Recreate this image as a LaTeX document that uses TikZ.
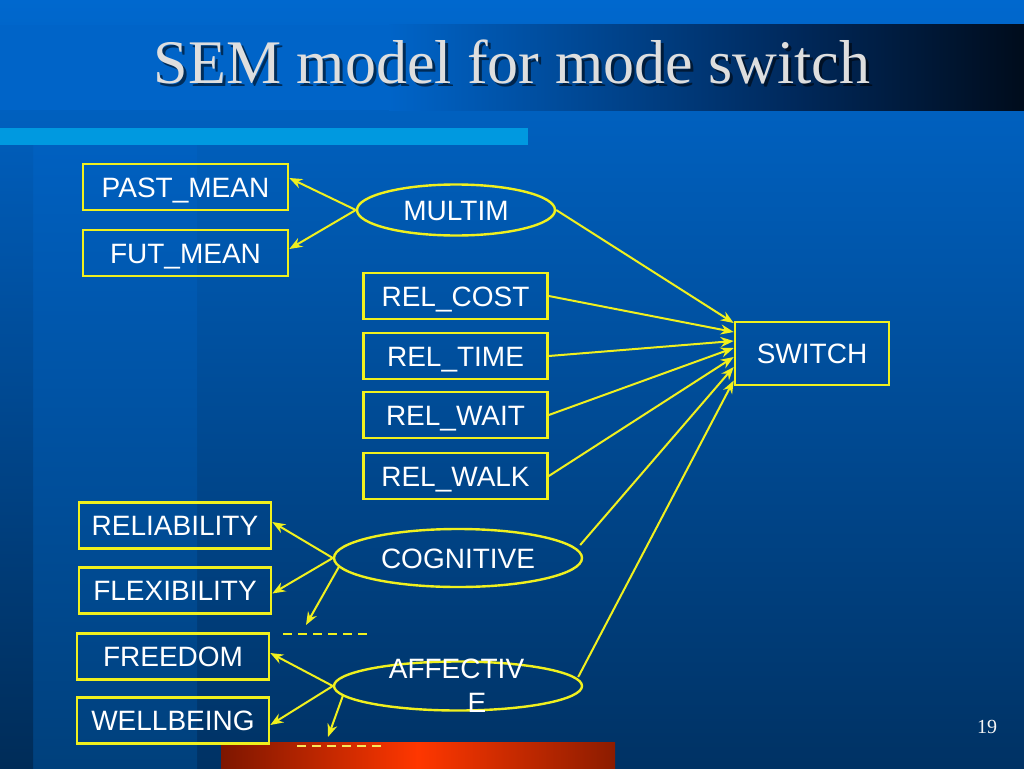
\documentclass[tikz,border=0pt]{standalone}
\usepackage{fontspec}
\setmainfont{Liberation Serif}
\newfontfamily\arialf{Liberation Sans}
\usetikzlibrary{arrows.meta,shapes.geometric}
\definecolor{bgtop}{RGB}{0,104,206}
\definecolor{bgbot}{RGB}{0,50,100}
\definecolor{bandtop}{RGB}{0,96,192}
\definecolor{bandbot}{RGB}{0,64,124}
\definecolor{edgetop}{RGB}{0,92,184}
\definecolor{edgebot}{RGB}{0,44,88}
\definecolor{barblue}{RGB}{0,100,200}
\definecolor{barmid}{RGB}{0,40,90}
\definecolor{bardark}{RGB}{0,12,28}
\definecolor{lightbar}{RGB}{0,153,224}
\definecolor{ylw}{RGB}{240,240,30}
\definecolor{dashylw}{RGB}{250,230,90}
\definecolor{titlegray}{RGB}{222,222,222}
\definecolor{redA}{RGB}{125,22,0}
\definecolor{redB}{RGB}{255,55,0}
\definecolor{redC}{RGB}{140,28,0}
\tikzset{
  box/.style={draw=ylw, line width=2.6pt, inner sep=0pt, text=white,
    font=\arialf\fontsize{28}{28}\selectfont, text height=20pt, text depth=0pt,
    minimum height=46pt},
  ell/.style={ellipse, draw=ylw, line width=2.4pt, inner sep=0pt, text=white,
    font=\arialf\fontsize{28}{28}\selectfont, text height=20pt, text depth=0pt},
  lbl/.style={inner sep=0pt, text=white, font=\arialf\fontsize{28}{28}\selectfont,
    text height=20pt, text depth=0pt},
  conn/.style={draw=ylw, line width=2pt, -{Stealth[length=13pt,width=10pt]}},
  errline/.style={line width=2.2pt, dash pattern=on 9pt off 6pt}
}
\begin{document}
\begin{tikzpicture}[x=1pt,y=-1pt]
\useasboundingbox (0,0) rectangle (1024,768);
% background
\shade[top color=bgtop, bottom color=bgbot] (0,0) rectangle (1024,768);
\shade[top color=bandtop, bottom color=bandbot] (33,145) rectangle (197,768);
\shade[top color=edgetop, bottom color=edgebot] (0,145) rectangle (33,768);
% title bar
\fill[barblue] (0,25) rectangle (390,110);
\shade[left color=barblue, right color=barmid] (389,25) rectangle (800,110);
\shade[left color=barmid, right color=bardark] (799,25) rectangle (1024,110);
\fill[lightbar] (0,128) rectangle (528,145);
% red bar
\shade[left color=redA, right color=redB] (221,742) rectangle (418,768);
\shade[left color=redB, right color=redC] (417,742) rectangle (615,768);
% title
\node[anchor=base, text=black, opacity=0.55, font=\fontsize{62}{62}\selectfont] (titleshadow) at (515,86) {SEM model for mode switch};
\node[anchor=base, text=titlegray, font=\fontsize{62}{62}\selectfont] (title) at (512,83) {SEM model for mode switch};
% page number
\node[text=white!92!gray, font=\fontsize{20}{20}\selectfont] (pnum) at (987,727) {19};

% nodes
\node[box, minimum width=205pt] (past) at (185.5,187) {PAST\_MEAN};
\node[box, minimum width=205pt] (fut) at (185.5,253) {FUT\_MEAN};
\node[ell, minimum width=198pt, minimum height=51pt] (multim) at (456,210) {MULTIM};
\node[box, minimum width=184pt] (cost) at (455.5,296) {REL\_COST};
\node[box, minimum width=184pt] (time) at (455.5,356) {REL\_TIME};
\node[box, minimum width=184pt] (wait) at (455.5,415) {REL\_WAIT};
\node[box, minimum width=184pt] (walk) at (455.5,476) {REL\_WALK};
\node[box, minimum width=154pt, minimum height=63pt] (sw) at (812,353.5) {SWITCH};
\node[box, minimum width=192pt] (reli) at (175,525.5) {RELIABILITY};
\node[box, minimum width=192pt] (flex) at (175,590.5) {FLEXIBILITY};
\node[box, minimum width=192pt] (free) at (173,656.5) {FREEDOM};
\node[box, minimum width=192pt] (well) at (173,720.5) {WELLBEING};
\node[ell, minimum width=248pt, minimum height=58pt] (cog) at (458,558) {COGNITIVE};
\node[ell, minimum width=248pt, minimum height=49pt] (aff) at (458,686) {};
\node[lbl] (afftxt1) at (456.5,668.5) {AFFECTIV};
\node[lbl] (afftxt2) at (477,702.5) {E};

% error terms
\coordinate (e1) at (306,625);
\coordinate (e2) at (328,737);
\coordinate (d1a) at (283,634);
\coordinate (d1b) at (370,634);
\coordinate (d2a) at (297,746);
\coordinate (d2b) at (384,746);
\draw[errline, ylw] (d1a) -- (d1b);
\draw[errline, dashylw] (d2a) -- (d2b);

% measurement arrows
\draw[conn] (multim.west) -- ([yshift=9pt]past.east);
\draw[conn] (multim.west) -- ([yshift=4pt]fut.east);
\draw[conn] (cog.west) -- ([yshift=3.5pt]reli.east);
\draw[conn] (cog.west) -- ([yshift=-3pt]flex.east);
\draw[conn] ([xshift=6pt,yshift=-9pt]cog.west) -- (e1);
\draw[conn] (aff.west) -- ([yshift=3.5pt]free.east);
\draw[conn] (aff.west) -- ([yshift=-4.5pt]well.east);
\draw[conn] ([xshift=10pt,yshift=-10pt]aff.west) -- (e2);

% structural arrows
\draw[conn] (multim.east) -- ([yshift=30.5pt]sw.west);
\draw[conn] (cost.east) -- ([yshift=21.5pt]sw.west);
\draw[conn] (time.east) -- ([yshift=12.5pt]sw.west);
\draw[conn] (wait.east) -- ([yshift=5.5pt]sw.west);
\draw[conn] (walk.east) -- ([yshift=-3.5pt]sw.west);
\draw[conn] ([xshift=-3pt,yshift=13pt]cog.east) -- ([yshift=-13.5pt]sw.west);
\draw[conn] ([xshift=-5pt,yshift=9pt]aff.east) -- ([yshift=-27pt]sw.west);
\end{tikzpicture}
\end{document}
